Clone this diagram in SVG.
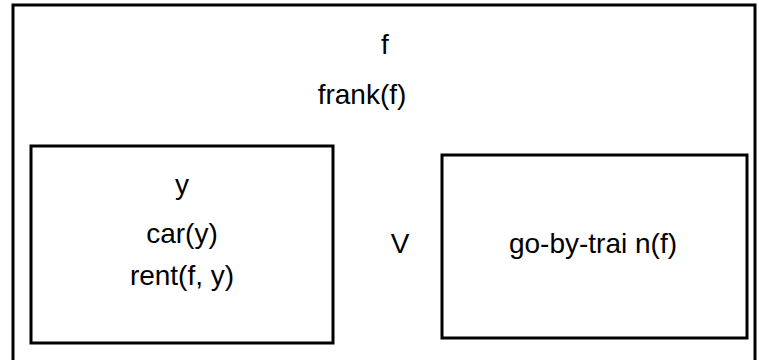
<svg xmlns="http://www.w3.org/2000/svg" width="759" height="360" viewBox="0 0 759 360">
<style>
.box{fill:none;stroke:#000;stroke-width:3}
text{font-family:"Liberation Sans",Arial,sans-serif;font-size:28px;fill:#000;text-anchor:middle}
</style>
<rect width="759" height="360" fill="#fff"/>
<g id="outer">
<rect class="box" x="13" y="5" width="742" height="380"/>
<text x="385" y="54">f</text>
<text x="362" y="104">frank(f)</text>
</g>
<g id="left">
<rect class="box" x="31" y="146" width="302" height="197"/>
<text x="182" y="194">y</text>
<text x="182" y="243">car(y)</text>
<text x="182" y="285">rent(f, y)</text>
</g>
<g id="or">
<text x="400" y="253">V</text>
</g>
<g id="right">
<rect class="box" x="442" y="155" width="305" height="183"/>
<text x="593" y="253">go-by-trai n(f)</text>
</g>
<g id="connectors"></g>
</svg>
